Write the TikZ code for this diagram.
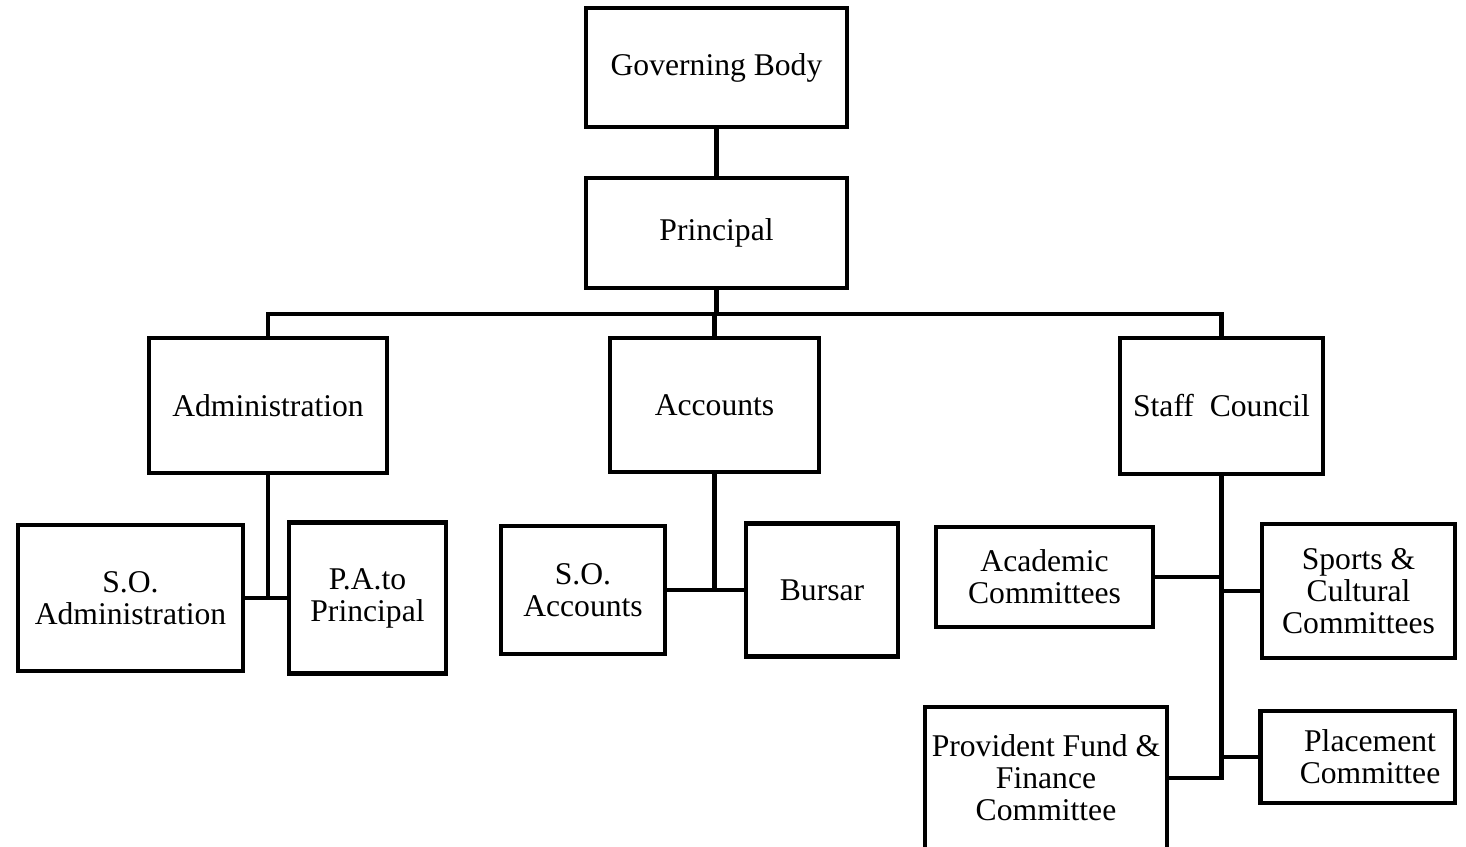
\documentclass[tikz,border=0pt]{standalone}
\usepackage{fontspec}
\setmainfont{Liberation Serif}
\usepackage{tikz}

\begin{document}
\begin{tikzpicture}[x=0.02cm, y=-0.02cm,
    box/.style={draw, rectangle, line width=2.8pt, inner sep=0pt, align=center,
        font=\fontsize{18}{18.3}\selectfont},
    link/.style={line width=2.8pt}]
    \useasboundingbox (0,0) rectangle (1466,846);
    % Topo
    \node[box, minimum width=5.22cm, minimum height=2.38cm] (gov) at (716.5,67.5) {Governing Body};
    \node[box, minimum width=5.22cm, minimum height=2.20cm] (prin) at (716.5,233) {Principal};
    % Segundo nivel
    \node[box, minimum width=4.76cm, minimum height=2.70cm] (admin) at (268,405.5) {Administration};
    \node[box, minimum width=4.18cm, minimum height=2.68cm] (acc) at (714.5,405) {Accounts};
    \node[box, minimum width=4.06cm, minimum height=2.72cm] (staff) at (1221.5,406) {Staff\ \ Council};
    % Administracao
    \node[box, minimum width=4.50cm, minimum height=2.92cm] (soadm) at (130.5,598) {S.O.\\Administration};
    \node[box, minimum width=3.14cm, minimum height=3.02cm] (pa) at (367.5,598) {P.A.to\\Principal};
    % Contas
    \node[box, minimum width=3.28cm, minimum height=2.56cm] (soacc) at (583,590) {S.O.\\Accounts};
    \node[box, minimum width=3.04cm, minimum height=2.66cm] (bursar) at (822,590) {Bursar};
    % Comites
    \node[box, minimum width=4.34cm, minimum height=2.00cm] (acad) at (1044.5,577) {Academic\\Committees};
    \node[box, minimum width=3.86cm, minimum height=2.68cm] (sports) at (1358.5,591) {Sports \&\\Cultural\\Committees};
    \node[box, minimum width=4.84cm, minimum height=2.84cm] (pf) at (1046,778) {Provident Fund \&\\Finance\\Committee};
    \node[box, minimum width=3.90cm, minimum height=1.84cm] (place) at (1357.5,757) {\hspace*{0.5cm}Placement\\\hspace*{0.5cm}Committee};
    % Ligacoes
    \coordinate (bus) at (716.5,314);
    \draw[link] (gov) -- (prin);
    \draw[link] (prin.south) -- (prin.south |- bus);
    \draw[link] (admin.north) -- (admin.north |- bus) -- (staff.north |- bus) -- (staff.north);
    \draw[link] (acc.north) -- (acc.north |- bus);
    \draw[link] (admin.south) |- (soadm.east);
    \draw[link] (admin.south |- pa.west) -- (pa.west);
    \draw[link] (acc.south) |- (soacc.east);
    \draw[link] (acc.south |- bursar.west) -- (bursar.west);
    \draw[link] (staff.south) |- (pf.east);
    \draw[link] (acad.east) -- (acad.east -| staff.south);
    \draw[link] (sports.west) -- (sports.west -| staff.south);
    \draw[link] (place.west) -- (place.west -| staff.south);
\end{tikzpicture}
\end{document}
